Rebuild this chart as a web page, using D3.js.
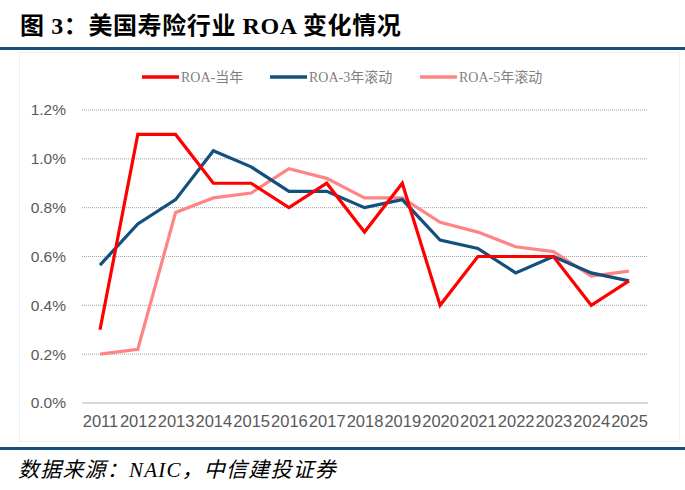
<!DOCTYPE html>
<html><head><meta charset="utf-8">
<script src="https://cdn.jsdelivr.net/npm/d3@7"></script>
<style>body{margin:0;background:#fff}svg{display:block}</style>
</head><body>
<script>
const years = ["2011","2012","2013","2014","2015","2016","2017","2018","2019","2020","2021","2022","2023","2024","2025"];
const roaYear = [0.30,1.10,1.10,0.90,0.90,0.80,0.90,0.70,0.90,0.40,0.60,0.60,0.60,0.40,0.50];
const roa3 = [0.565,0.733,0.833,1.033,0.967,0.867,0.867,0.800,0.833,0.667,0.633,0.533,0.600,0.533,0.500];
const roa5 = [0.20,0.22,0.78,0.84,0.86,0.96,0.92,0.84,0.84,0.74,0.70,0.64,0.62,0.52,0.54];
const yTicks = [0,0.2,0.4,0.6,0.8,1.0,1.2];
const seriesNames = ["ROA-当年","ROA-3年滚动","ROA-5年滚动"];
const seriesColors = ["#ff0000","#13507e","#ff8585"];

const W=685,H=490;
const svg=d3.select("body").append("svg").attr("width",W).attr("height",H);

// title
const t=svg.append("text").attr("x",20).attr("y",34).attr("font-size",24).attr("font-weight","bold").attr("fill","#000")
  .attr("letter-spacing",0.6)
  .attr("font-family","'Liberation Serif','Noto Sans CJK SC',serif");
t.append("tspan").text("图 3");
t.append("tspan").text("：美国寿险行业 ROA 变化情况");
svg.append("rect").attr("x",0).attr("y",47).attr("width",W).attr("height",3).attr("fill","#14507f");
svg.append("rect").attr("x",0).attr("y",447).attr("width",W).attr("height",3).attr("fill","#14507f");

// faint chart frame
svg.append("rect").attr("x",19.5).attr("y",52.5).attr("width",660).attr("height",389).attr("fill","none").attr("stroke","#f0f0f0");

const x=d3.scalePoint().domain(years).range([100,629]);
const y=d3.scaleLinear().domain([0,1.2]).range([403,110]);

// gridlines
const gx0=82,gx1=648;
svg.append("g").selectAll("line").data(yTicks.filter(d=>d>0)).join("line")
  .attr("x1",gx0).attr("x2",gx1).attr("y1",d=>y(d)).attr("y2",d=>y(d))
  .attr("stroke","#8c8c8c").attr("stroke-width",0.8).attr("stroke-dasharray","1,1");
svg.append("line").attr("x1",gx0).attr("x2",gx1).attr("y1",y(0)).attr("y2",y(0)).attr("stroke","#d9d9d9").attr("stroke-width",2);

// y axis
const ya=svg.append("g").attr("transform","translate(66,0)").call(d3.axisLeft(y).tickValues(yTicks).tickFormat(d=>d.toFixed(1)+"%").tickSize(0).tickPadding(0));
ya.select(".domain").remove();
ya.selectAll("text").attr("font-size",15.5).attr("font-family","'Liberation Sans',Arial,sans-serif").attr("fill","#595959");

// x axis
const xa=svg.append("g").attr("transform","translate(0,410)").call(d3.axisBottom(x).tickSize(0).tickPadding(5));
xa.select(".domain").remove();
xa.selectAll("text").attr("font-size",16.5).attr("font-family","'Liberation Sans',Arial,sans-serif").attr("fill","#595959");

// lines
const line=d3.line().x((d,i)=>x(years[i])).y(d=>y(d));
const data=[roaYear,roa3,roa5];
[2,1,0].forEach(k=>{
  svg.append("path").datum(data[k]).attr("d",line).attr("fill","none").attr("stroke",seriesColors[k])
   .attr("stroke-width",3.2).attr("stroke-linejoin","miter");
});
// legend
const legX=[142,270,420];
seriesNames.forEach((n,i)=>{
  svg.append("line").attr("x1",legX[i]).attr("x2",legX[i]+37).attr("y1",77).attr("y2",77).attr("stroke",seriesColors[i]).attr("stroke-width",3.5);
  svg.append("text").attr("x",legX[i]+39).attr("y",82).attr("font-size",14).attr("fill","#7f7f7f")
    .attr("font-family","'Liberation Serif','Noto Sans CJK SC',serif").text(n);
});

// source
svg.append("text").attr("x",18).attr("y",477).attr("font-size",21).attr("font-style","italic").attr("fill","#000")
  .attr("letter-spacing",1.2)
  .attr("font-family","'Liberation Serif','Noto Sans CJK SC',serif").text("数据来源：NAIC，中信建投证券");
</script>
</body></html>
